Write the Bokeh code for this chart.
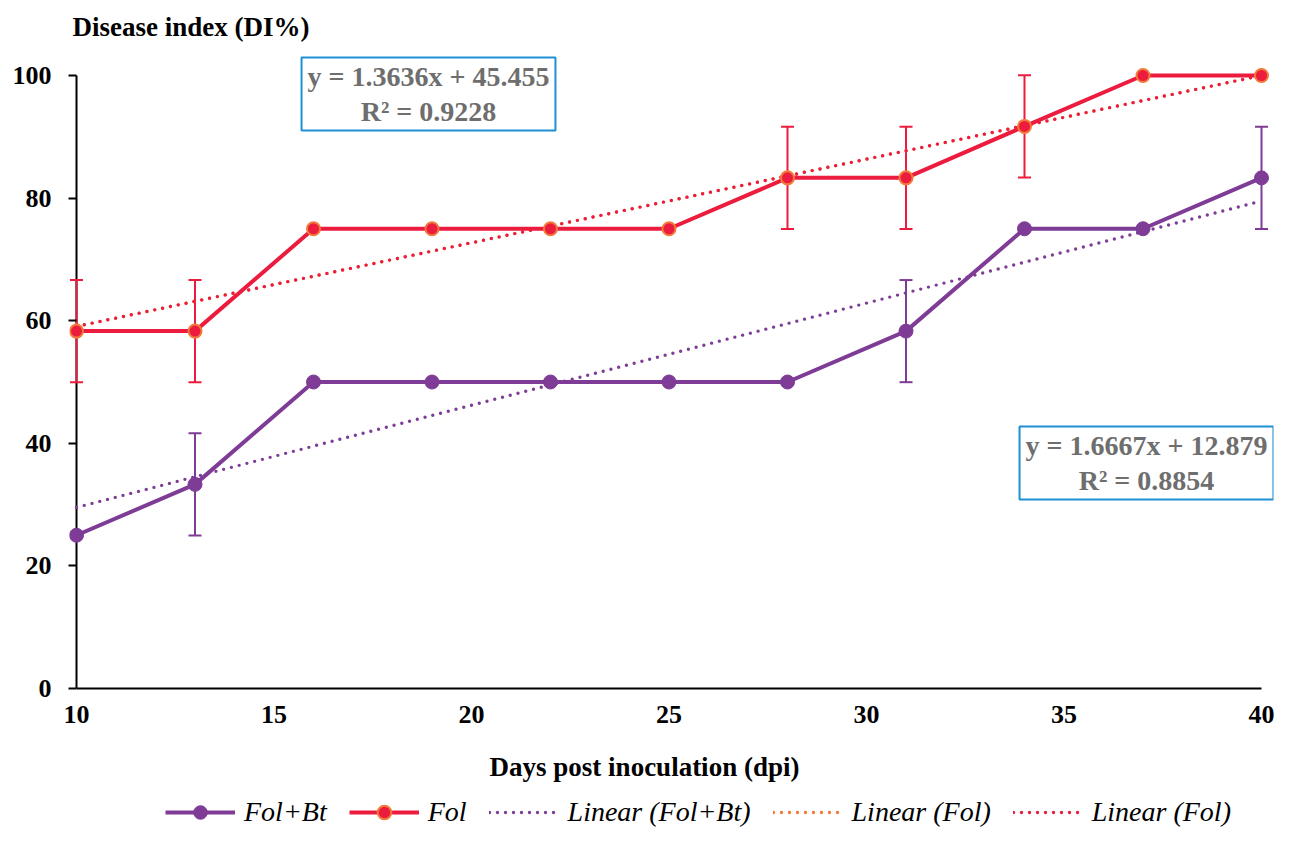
import numpy as np
from bokeh.plotting import figure
from bokeh.layouts import column
from bokeh.models import (ColumnDataSource, Whisker, TeeHead, Label, Legend,
                          LegendItem, Range1d, FixedTicker)
from bokeh.embed import file_html
from bokeh.resources import INLINE

# ---- data ----
days = [10, 13, 16, 19, 22, 25, 28, 31, 34, 37, 40]
fol_bt = [25.0, 33.3, 50.0, 50.0, 50.0, 50.0, 50.0, 58.3, 75.0, 75.0, 83.3]
fol = [58.3, 58.3, 75.0, 75.0, 75.0, 75.0, 83.3, 83.3, 91.7, 100.0, 100.0]
fol_bt_err = [0, 8.33, 0, 0, 0, 0, 0, 8.33, 0, 0, 8.33]
fol_err = [8.33, 8.33, 0, 0, 0, 0, 8.33, 8.33, 8.33, 0, 0]
x_ticks = [10, 15, 20, 25, 30, 35, 40]
y_ticks = [0, 20, 40, 60, 80, 100]
eq_fol = "y = 1.3636x + 45.455\nR² = 0.9228"
eq_fol_bt = "y = 1.6667x + 12.879\nR² = 0.8854"
series_names = ["Fol+Bt", "Fol", "Linear (Fol+Bt)", "Linear (Fol)", "Linear (Fol)"]
y_title = "Disease index (DI%)"
x_title = "Days post inoculation (dpi)"

PURPLE = "#7E3C96"
RED = "#EC1C3F"
ORANGE = "#F47A3A"
GRAY = "#6E6E6E"
BOXBLUE = "#1E8FD5"
FONT = "Liberation Serif"

# layout (pixels)
W = 1275
H_MAIN, H_LEG = 740, 90
FL, FR = 69, 1273          # frame left / right
FT, FB = 50, 688           # frame top / bottom
X10, X40 = 76, 1261        # where x=10 and x=40 fall
Y100 = 75                  # where y=100 falls
sx = (X40 - X10) / 30.0
sy = (FB - Y100) / 100.0
x_start = 10 - (X10 - FL) / sx
x_end = 40 + (FR - X40) / sx
y_end = 100 + (Y100 - FT) / sy

p = figure(width=W, height=H_MAIN, output_backend="svg", toolbar_location=None,
           x_range=Range1d(x_start, x_end), y_range=Range1d(0, y_end),
           min_border_left=FL, min_border_right=W - FR, min_border_top=FT,
           min_border_bottom=H_MAIN - FB)
p.grid.visible = False
p.outline_line_color = None
p.background_fill_color = "white"
p.border_fill_color = "white"

# axes
for ax in (p.xaxis[0], p.yaxis[0]):
    ax.axis_line_color = "black"
    ax.axis_line_width = 2
    ax.major_label_text_font = FONT
    ax.major_label_text_font_style = "bold"
    ax.major_label_text_font_size = "26px"
    ax.major_label_text_color = "black"
    ax.minor_tick_line_color = None
    ax.major_tick_line_color = "black"
    ax.major_tick_line_width = 2

p.xaxis.ticker = FixedTicker(ticks=x_ticks)
p.yaxis.ticker = FixedTicker(ticks=y_ticks)
p.xaxis.bounds = (x_ticks[0], x_ticks[-1])
p.yaxis.bounds = (y_ticks[0], y_ticks[-1])
p.xaxis.major_tick_out = 0
p.xaxis.major_tick_in = 0
p.yaxis.axis_line_color = None
p.yaxis.major_tick_out = 1
p.yaxis.major_tick_in = X10 - FL
p.xaxis.major_label_standoff = 17
p.yaxis.major_label_standoff = 17

# y-axis title as the plot title, above the frame
p.title.text = y_title
p.title.align = "left"
p.title.text_font = FONT
p.title.text_font_style = "bold"
p.title.text_font_size = "27px"
p.title.text_color = "black"
p.title.offset = 3
p.title.standoff = 18

# y-axis line through x = 10
p.segment(x0=[x_ticks[0]], y0=[y_ticks[0]], x1=[x_ticks[0]], y1=[y_ticks[-1]],
          line_color="black", line_width=2, level="underlay")

# trend lines (least squares fit of the data, as the spreadsheet trendline)
xs = np.array(days, dtype=float)
c_bt = np.polyfit(xs, np.array(fol_bt), 1)
c_f = np.polyfit(xs, np.array(fol), 1)
trend_x = [days[0], days[-1]]
trend_bt = list(np.polyval(c_bt, trend_x))
trend_f = list(np.polyval(c_f, trend_x))

dot = dict(line_width=3.4, line_dash="0 8", line_cap="round")
p.line(trend_x, trend_bt, line_color=PURPLE, **dot)
p.line(trend_x, trend_f, line_color=ORANGE, **dot)
p.line(trend_x, trend_f, line_color=RED, **dot)

# error bars
def err_source(xv, yv, ev):
    keep = [i for i, e in enumerate(ev) if e > 0]
    return ColumnDataSource(dict(
        x=[xv[i] for i in keep],
        upper=[yv[i] + ev[i] for i in keep],
        lower=[yv[i] - ev[i] for i in keep]))

for yv, ev, col in ((fol_bt, fol_bt_err, PURPLE), (fol, fol_err, RED)):
    src = err_source(days, yv, ev)
    w = Whisker(base="x", upper="upper", lower="lower", source=src,
                line_color=col, line_width=2, level="underlay",
                upper_head=TeeHead(size=13, line_color=col, line_width=2),
                lower_head=TeeHead(size=13, line_color=col, line_width=2))
    p.add_layout(w)

# data series
line_bt = dict(line_color=PURPLE, line_width=4)
mark_bt = dict(size=14, fill_color=PURPLE, line_color=PURPLE, line_width=1)
line_f = dict(line_color=RED, line_width=4)
mark_f = dict(size=13, fill_color=RED, line_color=ORANGE, line_width=2)
p.line(days, fol_bt, **line_bt)
p.scatter(days, fol_bt, **mark_bt)
p.line(days, fol, **line_f)
p.scatter(days, fol, **mark_f)

# equation boxes (screen units relative to the frame, y from the bottom)
for txt, bx, by in ((eq_fol, 428 - FL, FB - 93.5), (eq_fol_bt, 1146 - FL, FB - 462.5)):
    lab = Label(x=bx, y=by, x_units="screen", y_units="screen", text=txt,
                text_font=FONT, text_font_style="bold", text_font_size="28px",
                text_color=GRAY, text_align="center", text_baseline="middle",
                text_line_height=1.1,
                border_line_color=BOXBLUE, border_line_width=2,
                background_fill_color="white", padding=(6, 4))
    p.add_layout(lab)

# strip below the chart: x-axis title and legend (frame aligned with the chart)
q = figure(width=W, height=H_LEG, output_backend="svg", toolbar_location=None,
           x_range=Range1d(0, 1), y_range=Range1d(0, 1),
           x_axis_location=None, y_axis_location=None,
           min_border=0, min_border_left=0, min_border_right=0,
           min_border_top=0, min_border_bottom=0)
q.grid.visible = False
q.outline_line_color = None
q.background_fill_color = "white"
q.border_fill_color = "white"

q.add_layout(Label(x=644 - FL, y=H_LEG - 26, x_units="screen", y_units="screen",
                   text=x_title, text_font=FONT, text_font_style="bold",
                   text_font_size="27px", text_color="black",
                   text_align="center", text_baseline="middle"))

# the series again (outside this strip's visible range) to feed the legend
g1 = q.line(days, fol_bt, **line_bt)
g1m = q.scatter(days, fol_bt, **mark_bt)
g2 = q.line(days, fol, **line_f)
g2m = q.scatter(days, fol, **mark_f)
g3 = q.line(trend_x, trend_bt, line_color=PURPLE, **dot)
g4 = q.line(trend_x, trend_f, line_color=ORANGE, **dot)
g5 = q.line(trend_x, trend_f, line_color=RED, **dot)

items = [
    LegendItem(label=series_names[0], renderers=[g1, g1m]),
    LegendItem(label=series_names[1], renderers=[g2, g2m]),
    LegendItem(label=series_names[2], renderers=[g3]),
    LegendItem(label=series_names[3], renderers=[g4]),
    LegendItem(label=series_names[4], renderers=[g5]),
]
legend = Legend(items=items, orientation="horizontal", location=(165 - FL, 1),
                label_text_font=FONT, label_text_font_style="italic",
                label_text_font_size="28px", label_text_color="black",
                glyph_width=70, glyph_height=34, label_standoff=9,
                spacing=22, padding=0, margin=0,
                border_line_color=None, background_fill_alpha=0)
q.add_layout(legend)

open("out.html", "w").write(file_html(column(p, q, spacing=0), INLINE))
